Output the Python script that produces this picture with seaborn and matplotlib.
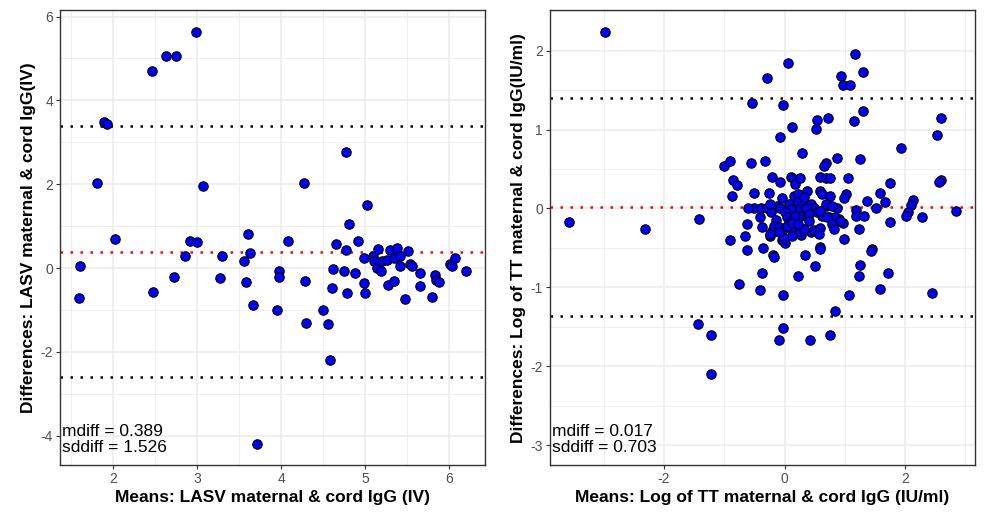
import numpy as np
import pandas as pd
import seaborn as sns
import matplotlib.pyplot as plt
from matplotlib.ticker import MultipleLocator

# LASV: medias e diferencas (mae - cordao)
lasv_means = [1.60, 1.59, 1.80, 1.89, 1.92, 2.02, 2.46, 2.47, 2.63, 2.72, 2.75, 2.85, 2.91,
              2.99, 3.00, 3.07, 3.27, 3.29, 3.56, 3.58, 3.60, 3.63, 3.67, 3.71, 3.95, 3.97,
              3.97, 4.08, 4.27, 4.28, 4.30, 4.50, 4.56, 4.58, 4.60, 4.62, 4.65, 4.75, 4.77,
              4.77, 4.78, 4.81, 4.88, 4.91, 4.99, 4.99, 5.00, 5.02, 5.10, 5.11, 5.14, 5.15,
              5.19, 5.20, 5.26, 5.27, 5.30, 5.34, 5.34, 5.38, 5.42, 5.42, 5.47, 5.51, 5.54,
              5.56, 5.65, 5.66, 5.80, 5.83, 5.84, 5.88, 6.01, 6.03, 6.07, 6.20]
lasv_diffs = [0.05, -0.72, 2.04, 3.49, 3.43, 0.69, 4.69, -0.57, 5.05, -0.22, 5.07, 0.29, 0.64,
              5.63, 0.61, 1.96, -0.24, 0.29, 0.18, -0.33, 0.81, 0.37, -0.87, -4.19, -0.99, -0.07,
              -0.22, 0.64, 2.04, -0.31, -1.31, -0.99, -1.33, -2.19, -0.47, -0.02, 0.58, -0.07, 0.44,
              2.78, -0.60, 1.05, -0.12, 0.64, 0.25, -0.36, -0.60, 1.51, 0.28, 0.16, 0.01, 0.46,
              -0.08, 0.16, 0.20, -0.40, 0.44, 0.24, -0.32, 0.49, 0.28, 0.04, -0.75, 0.40, 0.10,
              0.06, -0.12, -0.43, -0.68, -0.16, -0.29, -0.33, 0.10, 0.04, 0.25, -0.07]
lasv_mdiff = 0.389
lasv_sddiff = 1.526

# TT (log): medias e diferencas
tt_means = [-2.98, 0.06, 1.16, 1.30, 0.94, 0.97, 1.09, -0.30, -0.54, -0.03, 0.72, 0.54, 0.52,
            1.30, 1.15, 0.13, -0.07, 2.59, 2.52, 1.93, 0.29, 0.87, 1.25, 0.68, 0.65, -1.01,
            -0.91, -0.56, -0.32,
            -0.85, -0.79, -0.87, -0.50, -0.26, -0.21, -0.07, 0.10, 0.15, 0.17, 0.26, 0.59,
            0.68, 0.76, 1.05, 1.02, 0.98, 2.59, 2.56, 1.74, 1.58, 1.67, 1.37, 1.52, 2.13,
            2.10, -0.04, 0.15, 0.23, 0.37, 0.59, 0.62, 0.76, -0.51, -0.39, -0.61, -0.29,
            -0.12, -0.07, 0.07, 0.10, 0.23, 0.26, 0.32, 0.43, 0.48, 0.68, 0.87, 0.68, 1.18,
            -3.57, -2.31, -1.42, 2.85, 2.28, 2.05, 2.01, 1.74, 1.19, 1.31, 1.24, 0.98, -0.63,
            -0.66, -0.90, -0.40, -0.37, -0.24, -0.21, -0.05, 0.01, 0.27, 0.43, 0.48, 0.58,
            -0.22, -0.15, 0.01, 0.04, 0.10, 0.26, 0.37, 0.54, 0.62, 0.73, 0.82, 0.59, 0.90,
            0.97, -0.18, -0.10, -0.04, 0.10, 0.26, 0.32, -0.01, 0.84, 0.92,
            -0.24, 0.35, 0.79, 0.18, 0.40, 0.04, 0.12, 0.23, 0.40, -0.24, -0.10, 0.12, 0.57,
            0.79, 0.82, 0.70, 0.32,
            -0.63, -0.36, -0.19, -0.17, 0.33, 0.58, 0.59, 1.45, 1.43, 0.51, 1.25, 1.23, 1.72,
            -0.38, 0.22, -0.76, -0.40, -0.02, 1.06, 1.58, 2.44, 0.83, -1.44, -1.22, -0.02,
            -0.09, 0.42, 0.76, -1.22]
tt_diffs = [2.24, 1.84, 1.96, 1.73, 1.68, 1.57, 1.56, 1.65, 1.34, 1.31, 1.15, 1.12, 1.01,
            1.24, 1.11, 1.03, 0.91, 1.15, 0.93, 0.76, 0.70, 0.64, 0.63, 0.57, 0.54, 0.54,
            0.60, 0.57, 0.60,
            0.36, 0.30, 0.16, 0.19, 0.20, 0.40, 0.33, 0.40, 0.37, 0.31, 0.38, 0.40,
            0.39, 0.39, 0.39, 0.18, 0.13, 0.36, 0.33, 0.32, 0.20, 0.08, 0.10, 0.00, 0.11,
            0.04, 0.13, 0.16, 0.18, 0.22, 0.22, 0.18, 0.16, 0.01, 0.01, 0.00, 0.01,
            0.03, 0.01, 0.06, -0.01, 0.08, 0.01, 0.06, 0.06, 0.01, 0.03, 0.01, 0.06, -0.02,
            -0.17, -0.26, -0.13, -0.03, -0.11, -0.04, -0.10, -0.17, -0.09, -0.09, -0.26, -0.39, -0.20,
            -0.35, -0.40, -0.11, -0.24, -0.35, -0.28, -0.40, -0.44, -0.33, -0.30, -0.27, -0.25,
            -0.05, -0.14, -0.05, -0.11, -0.16, -0.09, -0.11, -0.05, -0.09, -0.11, -0.15, -0.03, -0.13,
            -0.18, -0.22, -0.24, -0.28, -0.26, -0.28, -0.26, -0.37, -0.11, -0.16,
            0.06, 0.01, 0.03, -0.09, -0.07, -0.22, -0.18, -0.20, -0.16, -0.32, -0.30, -0.35, -0.32,
            -0.20, -0.26, -0.11, 0.14,
            -0.53, -0.50, -0.59, -0.62, -0.59, -0.49, -0.51, -0.51, -0.54, -0.73, -0.72, -0.85, -0.82,
            -0.82, -0.86, -0.96, -1.03, -1.10, -1.10, -1.02, -1.07, -1.30, -1.46, -1.60, -1.51,
            -1.67, -1.67, -1.60, -2.10]
tt_mdiff = 0.017
tt_sddiff = 0.703

sns.set_theme(style="white")
plt.rcParams['font.family'] = ['Liberation Sans', 'DejaVu Sans']
plt.rcParams['axes.unicode_minus'] = False

fig = plt.figure(figsize=(9.84, 5.15), dpi=100)
ax1 = fig.add_axes([0.061, 0.097, 0.432, 0.883])
ax2 = fig.add_axes([0.559, 0.097, 0.432, 0.883])

paineis = [
    (ax1, lasv_means, lasv_diffs, lasv_mdiff, lasv_sddiff,
     'Means: LASV maternal & cord IgG (IV)', 'Differences: LASV maternal & cord IgG(IV)',
     (1.365, 6.43), (-4.70, 6.15), 1, 2),
    (ax2, tt_means, tt_diffs, tt_mdiff, tt_sddiff,
     'Means: Log of TT maternal & cord IgG (IU/ml)', 'Differences: Log of TT maternal & cord IgG(IU/ml)',
     (-3.89, 3.16), (-3.25, 2.51), 2, 1),
]

for ax, medias, difs, mdiff, sddiff, xlab, ylab, xlim, ylim, xstep, ystep in paineis:
    df = pd.DataFrame({'means': medias, 'diffs': difs})
    ax.set_axisbelow(True)
    ax.grid(True, which='major', color='#EBEBEB', linewidth=1.1)
    ax.grid(True, which='minor', color='#EBEBEB', linewidth=0.6)
    sns.scatterplot(data=df, x='means', y='diffs', ax=ax, color='#0000FF',
                    edgecolor='black', linewidth=0.8, s=46, zorder=3)
    # linhas de media e limites de concordancia
    ax.axhline(mdiff, color='red', linestyle=(0, (1, 3)), linewidth=1.8, zorder=2)
    ax.axhline(mdiff + 1.96 * sddiff, color='black', linestyle=(0, (1, 3)), linewidth=1.8, zorder=2)
    ax.axhline(mdiff - 1.96 * sddiff, color='black', linestyle=(0, (1, 3)), linewidth=1.8, zorder=2)
    ax.text(0.004, 0.022, f'mdiff = {mdiff:.3f}\nsddiff = {sddiff:.3f}', transform=ax.transAxes,
            ha='left', va='bottom', fontsize=12.5, color='black', linespacing=1.08, zorder=4)

    ax.set_xlim(xlim)
    ax.set_ylim(ylim)
    ax.xaxis.set_major_locator(MultipleLocator(xstep))
    ax.xaxis.set_minor_locator(MultipleLocator(xstep / 2))
    ax.yaxis.set_major_locator(MultipleLocator(ystep))
    ax.yaxis.set_minor_locator(MultipleLocator(ystep / 2))
    ax.tick_params(which='major', length=3, width=0.8, color='#333333', pad=2,
                   labelsize=10, labelcolor='#4D4D4D', bottom=True, left=True)
    ax.tick_params(which='minor', length=0)
    for sp in ax.spines.values():
        sp.set_color('#333333')
        sp.set_linewidth(1.0)
    ax.set_xlabel(xlab, fontsize=12.5, fontweight='bold', color='black', labelpad=3)
    ax.set_ylabel(ylab, fontsize=12.5, fontweight='bold', color='black', labelpad=3)

fig.savefig('out.png', dpi=100)
